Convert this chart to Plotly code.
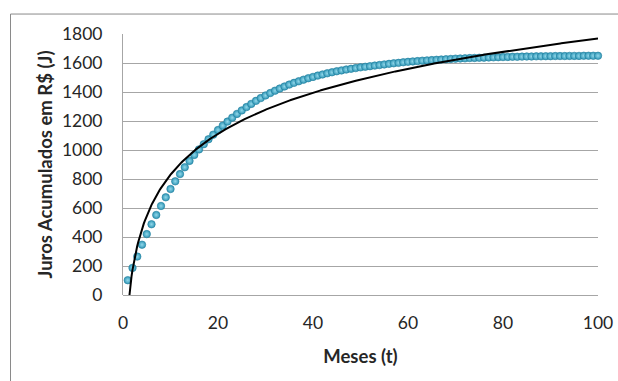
import numpy as np
import plotly.graph_objects as go

# Months (t)
meses = list(range(1, 101))
# Accumulated interest (J)
juros = [
    102, 187, 265, 347, 420, 488, 552, 614, 674, 731,
    784, 834, 881, 925, 966, 1004, 1040, 1074, 1106, 1138,
    1168, 1196, 1223, 1249, 1273, 1296, 1318, 1339, 1358, 1376,
    1393, 1409, 1424, 1438, 1451, 1463, 1474, 1485, 1495, 1504,
    1513, 1521, 1529, 1536, 1543, 1549, 1555, 1560, 1565, 1570,
    1574, 1578, 1582, 1586, 1590, 1594, 1598, 1601, 1605, 1608,
    1611, 1613, 1616, 1618, 1620, 1622, 1624, 1626, 1628, 1630,
    1631, 1632, 1634, 1635, 1636, 1637, 1638, 1639, 1640, 1641,
    1642, 1643, 1643, 1644, 1645, 1645, 1646, 1646, 1647, 1647,
    1648, 1648, 1648, 1649, 1649, 1649, 1650, 1650, 1650, 1650,
]
# Logarithmic trendline y = a*ln(t) + b, coefficients
trend_a = 408
trend_b = -110
x_ticks = [0, 20, 40, 60, 80, 100]
y_ticks = [0, 200, 400, 600, 800, 1000, 1200, 1400, 1600, 1800]

xt = np.linspace(1, 100, 500)
yt = trend_a * np.log(xt) + trend_b

fig = go.Figure()
fig.add_trace(go.Scatter(
    x=meses, y=juros, mode="markers",
    marker=dict(size=7.5, color="#2f96b6",
                gradient=dict(type="radial", color="#92d8ea"),
                line=dict(width=0.6, color="#23809e")),
    cliponaxis=False, showlegend=False, hoverinfo="x+y",
))
fig.add_trace(go.Scatter(
    x=xt, y=yt, mode="lines",
    line=dict(color="#000000", width=2),
    showlegend=False, hoverinfo="skip",
))

W, H = 618, 381
L, T = 123, 33.5
R = W - 598
B = H - 295
pw, ph = W - L - R, H - T - B

def px(xw):
    return (xw - L) / pw

def py(yw):
    return (H - B - yw) / ph

fig.add_shape(type="rect", xref="paper", yref="paper",
              x0=px(10.5), x1=px(660), y0=py(420), y1=py(13.5),
              line=dict(color="#8a8a8a", width=1), layer="below")

font_family = "Lato, 'Open Sans', sans-serif"
txt = "#262626"
fig.update_layout(
    template="none",
    width=W, height=H,
    margin=dict(l=L, r=R, t=T, b=B, pad=0, autoexpand=False),
    paper_bgcolor="white", plot_bgcolor="white",
    font=dict(family=font_family, size=17, color=txt),
    xaxis=dict(
        range=[0, 100], tickvals=x_ticks, showgrid=False, zeroline=False,
        showline=False, ticks="", ticklabelstandoff=15, automargin=False,
        ticklabeloverflow="allow",
        tickfont=dict(size=17.5, color=txt),
        title=dict(text="<b>Meses (t)</b>", font=dict(size=18.5, color=txt), standoff=18),
        fixedrange=True,
    ),
    yaxis=dict(
        range=[0, 1800], tickvals=y_ticks, showgrid=True, gridcolor="#a6a6a6", gridwidth=1,
        zeroline=True, zerolinecolor="#a6a6a6", zerolinewidth=1,
        showline=True, linecolor="#a6a6a6", linewidth=1, automargin=False,
        ticks="", ticklabelstandoff=16,
        tickfont=dict(size=17.5, color=txt),
        title=dict(text="<b>Juros Acumulados em R$ (J)</b>", font=dict(size=18.5, color=txt), standoff=4),
        fixedrange=True,
    ),
)

fig.write_html(
    "out.html",
    config={"displayModeBar": False, "responsive": False},
    post_script="document.body.style.margin='0px';document.body.style.overflow='hidden';",
)
